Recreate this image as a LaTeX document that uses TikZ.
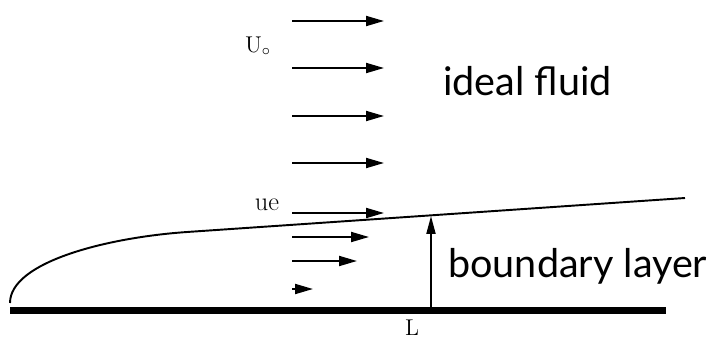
\documentclass[tikz,border=0pt]{standalone}
\usepackage{fontspec}
\newfontfamily\labelfont{Lato}
\usetikzlibrary{arrows.meta,positioning}

\begin{document}
\begin{tikzpicture}[x=0.02cm,y=-0.02cm]
  \tikzstyle{flow}=[line width=1.1pt,-{Triangle[length=0.36cm,width=0.2cm]}]
  \tikzstyle{plate}=[line width=4pt]
  \tikzstyle{edge}=[line width=1.1pt]
  \tikzstyle{big}=[inner sep=0pt,font=\labelfont\fontsize{22.5}{26}\selectfont]
  \tikzstyle{small}=[inner sep=0pt,font=\fontsize{13}{15}\selectfont]
  \useasboundingbox (0,0) rectangle (711,345);
  % plate and edge of the layer
  \coordinate (lead) at (10,310.5);
  \coordinate (trail) at (666,310.5);
  \draw[plate] (lead) -- (trail);
  \coordinate (nose) at (10,303);
  \coordinate (bend) at (187,232);
  \coordinate (tail) at (685,198);
  \draw[edge] (nose) .. controls (10,262) and (107,237.5) .. (bend) -- (tail);
  % free stream
  \foreach \i/\y in {1/21,2/68,3/116,4/163}{
    \coordinate (s\i) at (292,\y);
    \coordinate (t\i) at (384,\y);
    \draw[flow] (s\i) -- (t\i);
  }
  % inside the layer
  \foreach \i/\y/\x in {5/213/384,6/237/369,7/261/357,8/289/313}{
    \coordinate (s\i) at (292,\y);
    \coordinate (t\i) at (\x,\y);
    \draw[flow] (s\i) -- (t\i);
  }
  % thickness
  \coordinate (foot) at (431,307);
  \coordinate (head) at (431,216);
  \draw[flow,-{Triangle[length=0.36cm,width=0.18cm]}] (foot) -- (head);
  % labels
  \node[big,anchor=base west] (ideal) at (443,95) {ideal fluid};
  \node[big,anchor=base west] (layer) at (448,277) {boundary layer};
  \node[small] (uo) at (258,46) {$\mathrm{U}_{\circ}$};
  \node[small,font=\fontsize{15}{17}\selectfont] (ue) at (267,205) {ue};
  \node[small] (len) at (412,328) {L};
\end{tikzpicture}
\end{document}
